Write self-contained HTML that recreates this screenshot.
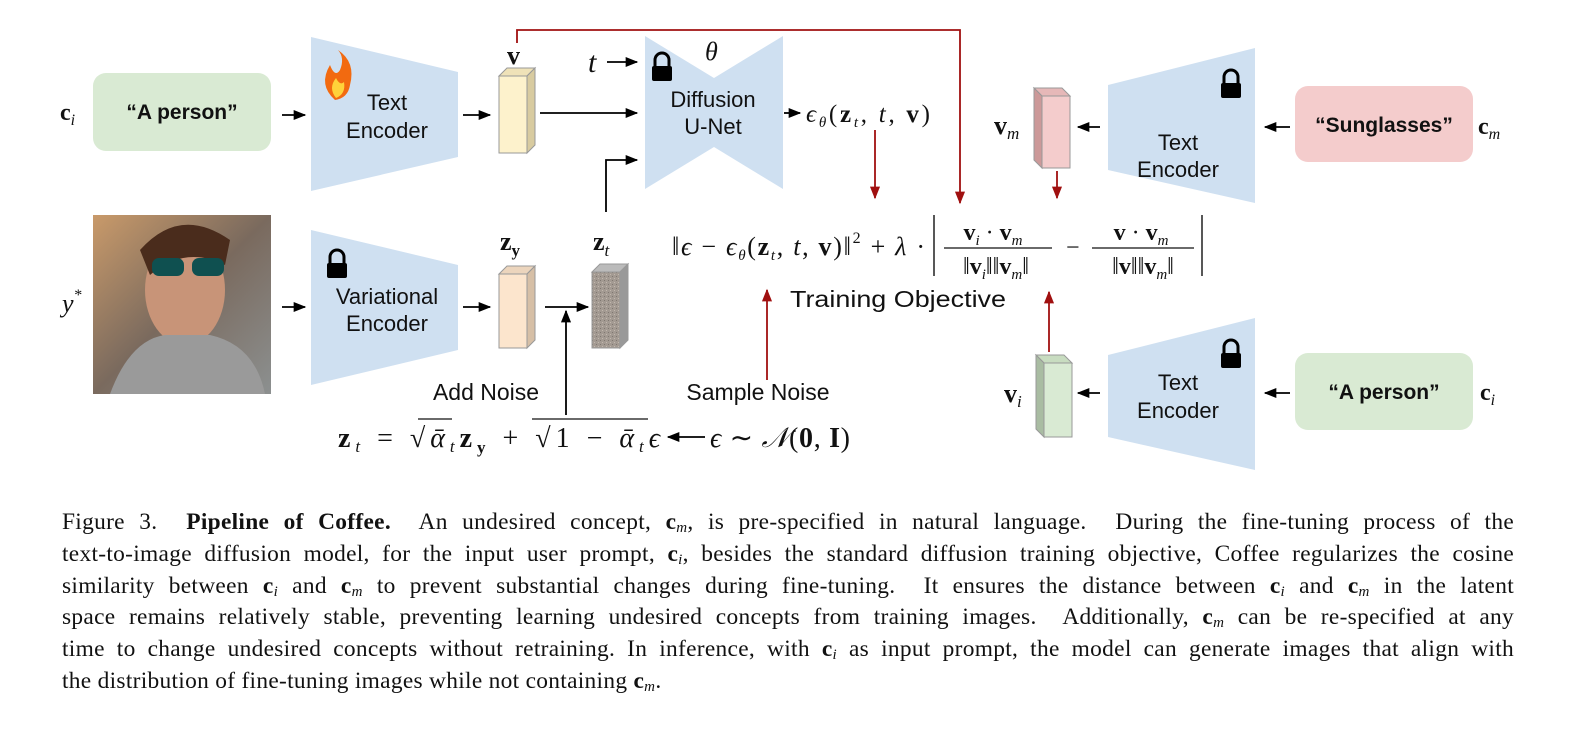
<!DOCTYPE html>
<html><head><meta charset="utf-8"><style>
body{margin:0;background:#fff;width:1596px;height:739px;overflow:hidden;position:relative}
svg{position:absolute;left:0;top:0}
.cap{position:absolute;left:62px;top:507px;width:1452px;font-family:"Liberation Serif",serif;font-size:23.4px;letter-spacing:0.3px;line-height:31.8px;color:#111}
.cap div{text-align:justify;text-align-last:justify;white-space:nowrap}
.cap div.l{text-align-last:left}
.cap sub{font-style:italic;font-size:15px;vertical-align:-3px;line-height:0}
</style></head><body>
<svg width="1596" height="739" viewBox="0 0 1596 739" font-family="Liberation Sans, sans-serif">
<defs>
<marker id="a" viewBox="0 0 10 10" refX="9" refY="5" markerWidth="7" markerHeight="7" orient="auto"><path d="M0,1 L10,5 L0,9 z" fill="#000"/></marker>
<marker id="r" viewBox="0 0 10 10" refX="9" refY="5" markerWidth="7" markerHeight="7" orient="auto"><path d="M0,1 L10,5 L0,9 z" fill="#a01010"/></marker>
<linearGradient id="ph" x1="0" y1="0" x2="1" y2="1"><stop offset="0" stop-color="#c99a6a"/><stop offset=".5" stop-color="#7a6a5e"/><stop offset="1" stop-color="#8c9090"/></linearGradient>
<pattern id="nz" width="4" height="4" patternUnits="userSpaceOnUse"><rect width="4" height="4" fill="#a39a92"/><rect width="1" height="1" fill="#7f7770"/><rect x="2" y="2" width="1" height="1" fill="#c2b8ae"/></pattern>
</defs>
<g fill="#cfe0f1">
<polygon points="311,37 458,72 458,157 311,191"/>
<polygon points="311,230 458,265 458,350 311,385"/>
<polygon points="645,36 714,78 783,36 783,189 714,147 645,189"/>
<polygon points="1108,85 1255,48 1255,203 1108,170"/>
<polygon points="1108,355 1255,318 1255,470 1108,437"/>
</g>
<rect x="93" y="73" width="178" height="78" rx="13" fill="#d9ead3"/>
<rect x="1295" y="86" width="178" height="76" rx="13" fill="#f4cccc"/>
<rect x="1295" y="353" width="178" height="77" rx="13" fill="#d9ead3"/>
<g font-weight="bold" font-size="21" text-anchor="middle" fill="#111">
<text x="182" y="119">“A person”</text>
<text x="1384" y="132">“Sunglasses”</text>
<text x="1384" y="399">“A person”</text>
</g>
<g font-size="22" text-anchor="middle" fill="#111">
<text x="387" y="110">Text</text><text x="387" y="138">Encoder</text>
<text x="387" y="304">Variational</text><text x="387" y="331">Encoder</text>
<text x="713" y="107">Diffusion</text><text x="713" y="134">U-Net</text>
<text x="1178" y="150">Text</text><text x="1178" y="177">Encoder</text>
<text x="1178" y="390">Text</text><text x="1178" y="418">Encoder</text>
<text x="486" y="400" font-size="23">Add Noise</text>
<text x="758" y="400" font-size="23">Sample Noise</text>
<text x="898" y="307" font-size="23" textLength="216" lengthAdjust="spacingAndGlyphs">Training Objective</text>
</g>
<rect x="93" y="215" width="178" height="179" fill="url(#ph)"/>
<ellipse cx="185" cy="290" rx="40" ry="55" fill="#c89478"/>
<path d="M140,250 Q180,205 230,240 L225,265 Q185,245 150,275z" fill="#4a2c1c"/>
<rect x="152" y="258" width="32" height="18" rx="7" fill="#0f5050"/><rect x="192" y="258" width="32" height="18" rx="7" fill="#0f5050"/>
<path d="M110,394 Q130,340 165,335 L210,335 Q255,345 265,394z" fill="#9a9a9a"/>
<g fill="#000">
<g transform="translate(662,68)"><path d="M-7,-2 v-6 a7,7 0 0 1 14,0 v6" fill="none" stroke="#000" stroke-width="3"/><rect x="-10" y="-2" width="20" height="15" rx="2"/></g>
<g transform="translate(337,265)"><path d="M-7,-2 v-6 a7,7 0 0 1 14,0 v6" fill="none" stroke="#000" stroke-width="3"/><rect x="-10" y="-2" width="20" height="15" rx="2"/></g>
<g transform="translate(1231,85)"><path d="M-7,-2 v-6 a7,7 0 0 1 14,0 v6" fill="none" stroke="#000" stroke-width="3"/><rect x="-10" y="-2" width="20" height="15" rx="2"/></g>
<g transform="translate(1231,355)"><path d="M-7,-2 v-6 a7,7 0 0 1 14,0 v6" fill="none" stroke="#000" stroke-width="3"/><rect x="-10" y="-2" width="20" height="15" rx="2"/></g>
</g>
<path d="M335,100 Q318,85 330,65 Q335,78 340,70 Q345,58 338,50 Q356,62 350,85 Q348,98 335,100z" fill="#f26a10"/>
<path d="M336,98 Q328,88 336,78 Q340,86 344,82 Q346,94 336,98z" fill="#ffd23a"/>
<g stroke="#999" stroke-width="1">
<polygon points="499,76 507,68 535,68 527,76" fill="#efe2b8"/><polygon points="527,76 535,68 535,145 527,153" fill="#d8cba0"/><rect x="499" y="76" width="28" height="77" fill="#fdf2cc"/>
<polygon points="499,274 507,266 535,266 527,274" fill="#ecd5bd"/><polygon points="527,274 535,266 535,340 527,348" fill="#d6bfa6"/><rect x="499" y="274" width="28" height="74" fill="#fce5cd"/>
<polygon points="592,272 600,264 628,264 620,272" fill="#bbb"/><polygon points="620,272 628,264 628,340 620,348" fill="#999"/><rect x="592" y="272" width="28" height="76" fill="url(#nz)"/>
<polygon points="1042,96 1034,88 1062,88 1070,96" fill="#e6b8b8"/><polygon points="1042,96 1034,88 1034,160 1042,168" fill="#c99"/><rect x="1042" y="96" width="28" height="72" fill="#f4cccc"/>
<polygon points="1044,363 1036,355 1064,355 1072,363" fill="#c8dcc0"/><polygon points="1044,363 1036,355 1036,429 1044,437" fill="#a9bca2"/><rect x="1044" y="363" width="28" height="74" fill="#d9ead3"/>
</g>
<g stroke="#000" stroke-width="1.8" fill="none" marker-end="url(#a)">
<path d="M282,115 H305"/><path d="M463,115 H490"/><path d="M540,113 H637"/><path d="M607,62 H637"/>
<path d="M784,113 H800"/>
<path d="M282,307 H305"/><path d="M463,307 H490"/><path d="M545,307 H588"/>
<path d="M566,415 V311"/><path d="M606,212 V160 H637"/>
<path d="M1290,127 H1265"/><path d="M1100,127 H1078"/>
<path d="M1290,393 H1265"/><path d="M1100,393 H1078"/>
<path d="M705,437 H668"/>
</g>
<g stroke="#a01010" stroke-width="1.8" fill="none" marker-end="url(#r)">
<path d="M517,43 V30 H960 V203"/>
<path d="M875,130 V198"/><path d="M1057,171 V198"/>
<path d="M767,380 V290"/><path d="M1049,352 V292"/>
</g>
<g font-family="Liberation Serif, serif" fill="#111">
<text x="60" y="120" font-size="24" font-weight="bold">c<tspan font-size="16" font-style="italic" font-weight="normal" dy="5">i</tspan></text>
<text x="62" y="312" font-size="26" font-style="italic">y<tspan font-size="16" dy="-12">*</tspan></text>
<text x="507" y="64" font-size="26" font-weight="bold">v</text>
<text x="588" y="72" font-size="30" font-style="italic">t</text>
<text x="705" y="60" font-size="26" font-style="italic">θ</text>
<text x="806" y="122" font-size="25" textLength="124" lengthAdjust="spacing"><tspan font-style="italic">ϵ</tspan><tspan font-size="15" font-style="italic" dy="5">θ</tspan><tspan dy="-5">(</tspan><tspan font-weight="bold">z</tspan><tspan font-size="15" font-style="italic" dy="5">t</tspan><tspan dy="-5">, </tspan><tspan font-style="italic">t</tspan>, <tspan font-weight="bold">v</tspan>)</text>
<text x="994" y="134" font-size="26" font-weight="bold">v<tspan font-size="17" font-style="italic" font-weight="normal" dy="5">m</tspan></text>
<text x="1478" y="134" font-size="24" font-weight="bold">c<tspan font-size="16" font-style="italic" font-weight="normal" dy="5">m</tspan></text>
<text x="1004" y="402" font-size="26" font-weight="bold">v<tspan font-size="17" font-style="italic" font-weight="normal" dy="5">i</tspan></text>
<text x="1480" y="400" font-size="24" font-weight="bold">c<tspan font-size="16" font-style="italic" font-weight="normal" dy="5">i</tspan></text>
<text x="500" y="250" font-size="26" font-weight="bold">z<tspan font-size="17" dy="6">y</tspan></text>
<text x="593" y="250" font-size="26" font-weight="bold">z<tspan font-size="17" font-style="italic" font-weight="normal" dy="6">t</tspan></text>
<text x="672" y="255" font-size="26" textLength="253" lengthAdjust="spacing">‖<tspan font-style="italic">ϵ</tspan> − <tspan font-style="italic">ϵ</tspan><tspan font-size="15" font-style="italic" dy="5">θ</tspan><tspan dy="-5">(</tspan><tspan font-weight="bold">z</tspan><tspan font-size="15" font-style="italic" dy="5">t</tspan><tspan dy="-5">, </tspan><tspan font-style="italic">t</tspan>, <tspan font-weight="bold">v</tspan>)‖<tspan font-size="16" dy="-12">2</tspan><tspan dy="12"> + </tspan><tspan font-style="italic">λ</tspan> ·</text>
<line x1="934" y1="215" x2="934" y2="276" stroke="#111" stroke-width="1.4"/>
<line x1="1202" y1="215" x2="1202" y2="276" stroke="#111" stroke-width="1.4"/>
<text x="993" y="240" font-size="24" text-anchor="middle"><tspan font-weight="bold">v</tspan><tspan font-size="15" font-style="italic" dy="5">i</tspan><tspan dy="-5"> · </tspan><tspan font-weight="bold">v</tspan><tspan font-size="15" font-style="italic" dy="5">m</tspan></text>
<line x1="944" y1="248" x2="1052" y2="248" stroke="#111" stroke-width="1.2"/>
<text x="996" y="274" font-size="24" text-anchor="middle">‖<tspan font-weight="bold">v</tspan><tspan font-size="15" font-style="italic" dy="5">i</tspan><tspan dy="-5">‖‖</tspan><tspan font-weight="bold">v</tspan><tspan font-size="15" font-style="italic" dy="5">m</tspan><tspan dy="-5">‖</tspan></text>
<text x="1066" y="255" font-size="24">−</text>
<text x="1141" y="240" font-size="24" text-anchor="middle"><tspan font-weight="bold">v</tspan> · <tspan font-weight="bold">v</tspan><tspan font-size="15" font-style="italic" dy="5">m</tspan></text>
<line x1="1092" y1="248" x2="1194" y2="248" stroke="#111" stroke-width="1.2"/>
<text x="1143" y="274" font-size="24" text-anchor="middle">‖<tspan font-weight="bold">v</tspan>‖‖<tspan font-weight="bold">v</tspan><tspan font-size="15" font-style="italic" dy="5">m</tspan><tspan dy="-5">‖</tspan></text>
<text x="338" y="447" font-size="28" textLength="322" lengthAdjust="spacing"><tspan font-weight="bold">z</tspan><tspan font-size="17" font-style="italic" dy="5">t</tspan><tspan dy="-5"> = √</tspan><tspan font-style="italic">ᾱ</tspan><tspan font-size="17" font-style="italic" dy="5">t</tspan><tspan font-weight="bold" dy="-5">z</tspan><tspan font-size="17" font-weight="bold" dy="6">y</tspan><tspan dy="-6"> + √</tspan>1 − <tspan font-style="italic">ᾱ</tspan><tspan font-size="17" font-style="italic" dy="5">t</tspan><tspan font-style="italic" dy="-5">ϵ</tspan></text>
<line x1="418" y1="419" x2="452" y2="419" stroke="#111" stroke-width="1.3"/>
<line x1="532" y1="419" x2="648" y2="419" stroke="#111" stroke-width="1.3"/>
<text x="710" y="447" font-size="28" textLength="140" lengthAdjust="spacing"><tspan font-style="italic">ϵ</tspan> ∼ <tspan font-style="italic">𝒩</tspan>(<tspan font-weight="bold">0</tspan>, <tspan font-weight="bold">I</tspan>)</text>
</g>
</svg>
<div class="cap">
<div>Figure 3.&nbsp; <b>Pipeline of Coffee.</b>&nbsp; An undesired concept, <b>c</b><sub>m</sub>, is pre-specified in natural language.&nbsp; During the fine-tuning process of the</div>
<div>text-to-image diffusion model, for the input user prompt, <b>c</b><sub>i</sub>, besides the standard diffusion training objective, Coffee regularizes the cosine</div>
<div>similarity between <b>c</b><sub>i</sub> and <b>c</b><sub>m</sub> to prevent substantial changes during fine-tuning.&nbsp; It ensures the distance between <b>c</b><sub>i</sub> and <b>c</b><sub>m</sub> in the latent</div>
<div>space remains relatively stable, preventing learning undesired concepts from training images.&nbsp; Additionally, <b>c</b><sub>m</sub> can be re-specified at any</div>
<div>time to change undesired concepts without retraining. In inference, with <b>c</b><sub>i</sub> as input prompt, the model can generate images that align with</div>
<div class="l">the distribution of fine-tuning images while not containing <b>c</b><sub>m</sub>.</div>
</div>
</body></html>
